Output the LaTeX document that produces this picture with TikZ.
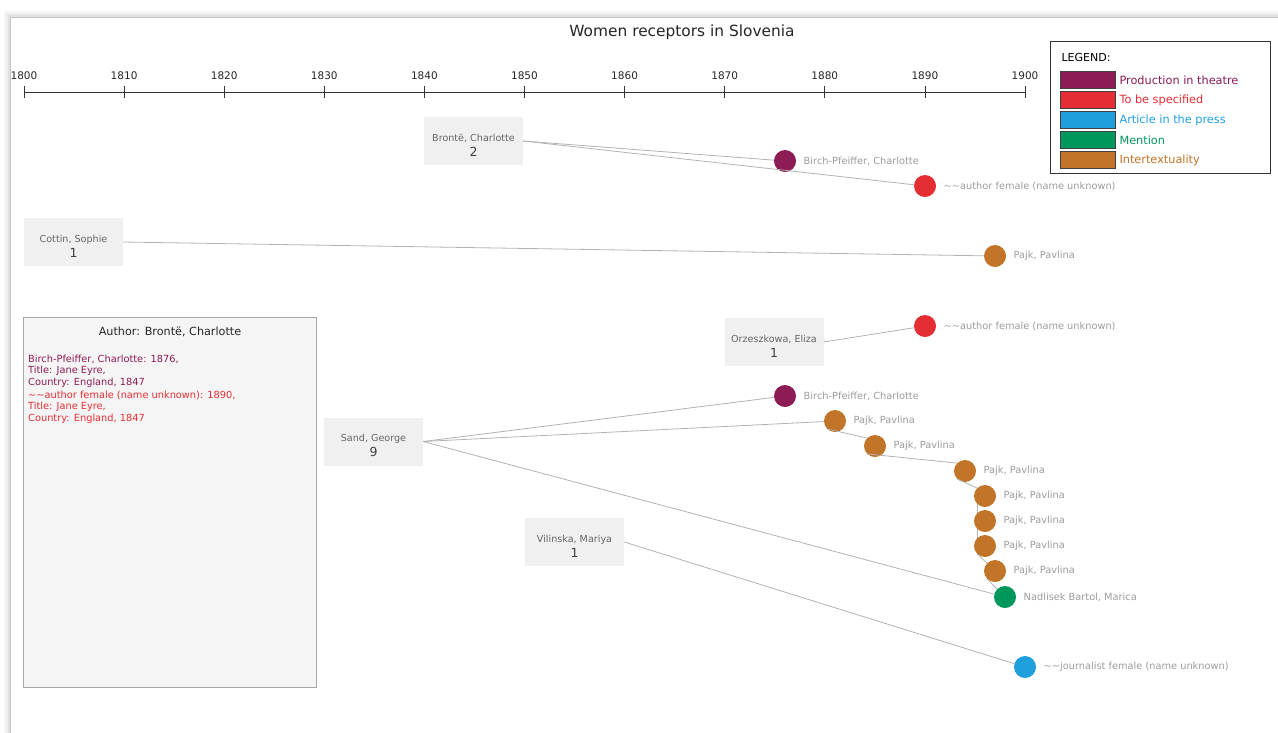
\documentclass[tikz,border=0pt]{standalone}
\usepackage{fontspec}
\setmainfont{DejaVu Sans}
\usepackage{tikz}
\usetikzlibrary{positioning}
\definecolor{theatrepurple}{RGB}{141,27,84}
\definecolor{specifiedred}{RGB}{229,45,52}
\definecolor{pressblue}{RGB}{31,160,221}
\definecolor{mentiongreen}{RGB}{0,151,92}
\definecolor{intertextorange}{RGB}{194,116,40}
\definecolor{boxgray}{RGB}{240,240,240}
\definecolor{labelgray}{RGB}{155,155,155}
\definecolor{linkgray}{RGB}{178,178,178}

\begin{document}
\begin{tikzpicture}[
        x=1pt, y=-1pt,
        author/.style={rectangle, fill=boxgray, minimum width=99pt, minimum height=48pt, inner sep=0pt, align=center, text=black!60, font=\fontsize{9.6}{15}\selectfont},
        receptor/.style={circle, fill=#1, minimum size=22pt, inner sep=0pt},
        rlabel/.style={text=labelgray, font=\fontsize{9.8}{11}\selectfont, label distance=4pt},
        link/.style={draw=linkgray, line width=0.8pt},
        swatch/.style={rectangle, draw=black!75, fill=#1, minimum width=55pt, minimum height=17pt, inner sep=0pt},
        keytext/.style={anchor=west, font=\fontsize{11.3}{12}\selectfont, text=#1}
    ]
        \useasboundingbox (0,0) rectangle (1278,732);

        % Window frame with soft shadow
        \foreach \d/\c in {5/4, 3/7, 1.5/12} {
            \draw[black!\c, line width=2pt] (10-\d,740) -- (10-\d,17-\d) -- (1290,17-\d);
        }
        \draw[black!22, line width=0.6pt] (10,740) -- (10,17) -- (1290,17);

        % Title and time axis
        \node[font=\fontsize{15.4}{17}\selectfont, text=black!85] (title) at (682,32) {Women receptors in Slovenia};
        \draw[black!80, line width=0.8pt] (24,92) -- (1025,92);
        \foreach \k in {0,...,10} {
            \pgfmathsetmacro{\xx}{24+\k*100.1}
            \pgfmathtruncatemacro{\yr}{1800+10*\k}
            \draw[black!80, line width=0.8pt] (\xx,86) -- (\xx,98);
            \node[font=\fontsize{10.5}{12}\selectfont, text=black!85] at (\xx,76) {\yr};
        }

        % Legend
        \draw[black!80, fill=white, line width=0.7pt] (1050,41) rectangle (1270,173);
        \node[anchor=west, font=\fontsize{11}{12}\selectfont] (legendhead) at (1058,57) {LEGEND:};
        \node[swatch=theatrepurple] (sw1) at (1087.5,80) {};
        \node[swatch=specifiedred] (sw2) at (1087.5,100) {};
        \node[swatch=pressblue] (sw3) at (1087.5,120) {};
        \node[swatch=mentiongreen] (sw4) at (1087.5,140) {};
        \node[swatch=intertextorange] (sw5) at (1087.5,160) {};
        \node[keytext=theatrepurple] at (1116,80) {Production in theatre};
        \node[keytext=specifiedred] at (1116,100) {To be specified};
        \node[keytext=pressblue] at (1116,120) {Article in the press};
        \node[keytext=mentiongreen] at (1116,140) {Mention};
        \node[keytext=intertextorange] at (1116,160) {Intertextuality};

        % Detail panel
        \draw[black!35, fill=black!4, line width=0.7pt] (23,317) rectangle (316,687);
        \node[font=\fontsize{11.2}{13}\selectfont, text=black!85] (paneltitle) at (170,332) {Author: Brontë, Charlotte};
        \node[anchor=north west, align=left, inner sep=0pt, text=theatrepurple, font=\fontsize{9.8}{11.7}\selectfont] (entry1) at (28,354.5) {Birch-Pfeiffer, Charlotte: 1876,\\ Title: Jane Eyre,\\ Country: England, 1847};
        \node[anchor=north west, align=left, inner sep=0pt, text=specifiedred, font=\fontsize{9.8}{11.7}\selectfont] (entry2) at (28,390.5) {\textasciitilde\textasciitilde author female (name unknown): 1890,\\ Title: Jane Eyre,\\ Country: England, 1847};

        % Authors (boxes)
        \node[author] (bronte) at (473.5,141) {\rule{0pt}{16pt}Brontë, Charlotte\\\textcolor{black!75}{\fontsize{12.5}{13}\selectfont 2}};
        \node[author] (cottin) at (73.5,242) {\rule{0pt}{16pt}Cottin, Sophie\\\textcolor{black!75}{\fontsize{12.5}{13}\selectfont 1}};
        \node[author] (orzeszkowa) at (774,342) {\rule{0pt}{16pt}Orzeszkowa, Eliza\\\textcolor{black!75}{\fontsize{12.5}{13}\selectfont 1}};
        \node[author] (sand) at (373.5,441.5) {\rule{0pt}{16pt}Sand, George\\\textcolor{black!75}{\fontsize{12.5}{13}\selectfont 9}};
        \node[author] (vilinska) at (574.5,542) {\rule{0pt}{16pt}Vilinska, Mariya\\\textcolor{black!75}{\fontsize{12.5}{13}\selectfont 1}};

        % Receptors (dots)
        \node[receptor=theatrepurple, label={[rlabel]right:Birch-Pfeiffer, Charlotte}] (bp1) at (785,161) {};
        \node[receptor=specifiedred, label={[rlabel]right:\textasciitilde\textasciitilde author female (name unknown)}] (anon1) at (925,186) {};
        \node[receptor=intertextorange, label={[rlabel]right:Pajk, Pavlina}] (pajk0) at (995,256) {};
        \node[receptor=specifiedred, label={[rlabel]right:\textasciitilde\textasciitilde author female (name unknown)}] (anon2) at (925,326) {};
        \node[receptor=theatrepurple, label={[rlabel]right:Birch-Pfeiffer, Charlotte}] (bp2) at (785,396) {};
        \node[receptor=intertextorange, label={[rlabel]right:Pajk, Pavlina}] (pajk1) at (835,421) {};
        \node[receptor=intertextorange, label={[rlabel]right:Pajk, Pavlina}] (pajk2) at (875,446) {};
        \node[receptor=intertextorange, label={[rlabel]right:Pajk, Pavlina}] (pajk3) at (965,471) {};
        \node[receptor=intertextorange, label={[rlabel]right:Pajk, Pavlina}] (pajk4) at (985,496) {};
        \node[receptor=intertextorange, label={[rlabel]right:Pajk, Pavlina}] (pajk5) at (985,521) {};
        \node[receptor=intertextorange, label={[rlabel]right:Pajk, Pavlina}] (pajk6) at (985,546) {};
        \node[receptor=intertextorange, label={[rlabel]right:Pajk, Pavlina}] (pajk7) at (995,571) {};
        \node[receptor=mentiongreen, label={[rlabel]right:Nadlisek Bartol, Marica}] (nadlisek) at (1005,597) {};
        \node[receptor=pressblue, label={[rlabel]right:\textasciitilde\textasciitilde journalist female (name unknown)}] (journalist) at (1025,667) {};

        % Reception links
        \draw[link] (bronte.east) -- (bp1);
        \draw[link] (bronte.east) -- (anon1);
        \draw[link] (cottin.east) -- (pajk0);
        \draw[link] (orzeszkowa.east) -- (anon2);
        \draw[link] (sand.east) -- (bp2);
        \draw[link] (sand.east) -- (pajk1);
        \draw[link] (sand.east) -- (nadlisek);
        \draw[link] (vilinska.east) -- (journalist);

        % Chain of Sand's receptors
        \draw[link] (pajk1.south west) -- (pajk2.north west);
        \draw[link] (pajk2.south west) -- (pajk3.north west);
        \draw[link] (pajk3.south west) -- (pajk4.north west);
        \draw[link] (pajk4.south west) -- (pajk5.north west);
        \draw[link] (pajk5.south west) -- (pajk6.north west);
        \draw[link] (pajk6.south west) -- (pajk7.north west);
        \draw[link] (pajk7.south west) -- (nadlisek.north west);
    \end{tikzpicture}
\end{document}
